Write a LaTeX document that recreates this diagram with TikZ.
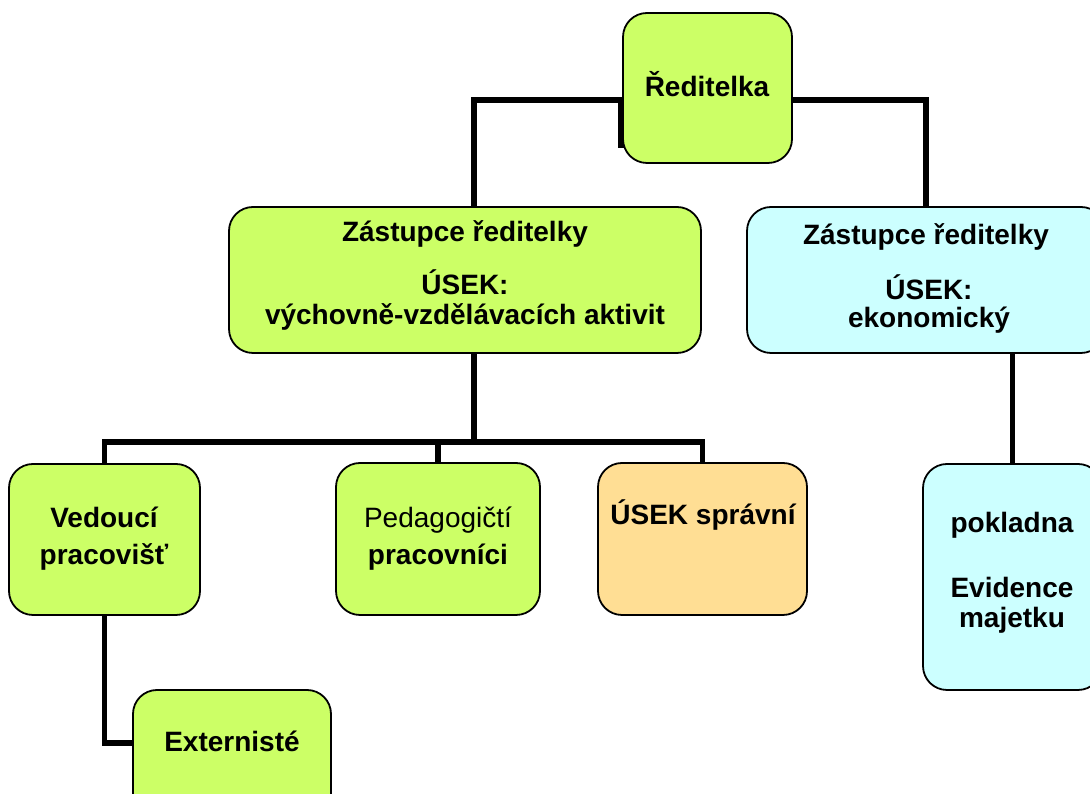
\documentclass[tikz,border=0pt]{standalone}
\usepackage{fontspec}
\setmainfont{Liberation Sans}
\usetikzlibrary{backgrounds}
\definecolor{boxgreen}{RGB}{204,255,102}
\definecolor{boxcyan}{RGB}{204,255,255}
\definecolor{boxorange}{RGB}{255,222,148}
\tikzset{
  orgbox/.style={draw=black, line width=1.8pt, rounded corners=24pt, rectangle, inner sep=0pt},
  conn/.style={draw=black, line width=5.5pt},
  lbl/.style={anchor=base, inner sep=0pt, font=\fontsize{28}{32}\selectfont\bfseries},
  lblreg/.style={anchor=base, inner sep=0pt, font=\fontsize{28}{32}\selectfont},
}
\begin{document}
\begin{tikzpicture}[x=1pt,y=1pt]
\useasboundingbox (0,0) rectangle (1090,794);
\clip (0,0) rectangle (1090,794);

% boxes
\node[orgbox, fill=boxgreen, minimum width=169pt, minimum height=150pt] (rt) at (707.5,706) {};
\node[orgbox, fill=boxgreen, minimum width=472pt, minimum height=146pt] (zl) at (465,514) {};
\node[orgbox, fill=boxcyan, minimum width=358pt, minimum height=146pt] (zr) at (926,514) {};
\node[orgbox, fill=boxgreen, minimum width=191pt, minimum height=151pt] (ve) at (104.5,254.5) {};
\node[orgbox, fill=boxgreen, minimum width=204pt, minimum height=152pt] (pe) at (438,255) {};
\node[orgbox, fill=boxorange, minimum width=209pt, minimum height=152pt] (us) at (702.5,255) {};
\node[orgbox, fill=boxcyan, minimum width=179pt, minimum height=226pt] (po) at (1012.5,217) {};
\node[orgbox, fill=boxgreen, minimum width=198pt, minimum height=150pt] (ex) at (232,29) {};

% texts
\node[lbl] (rt-t) at (707,697) {Ředitelka};
\node[lbl] (zl-t1) at (465,552) {Zástupce ředitelky};
\node[lbl] (zl-t2) at (465,499) {ÚSEK:};
\node[lbl] (zl-t3) at (465,469) {výchovně-vzdělávacích aktivit};
\node[lbl] (zr-t1) at (926,549) {Zástupce ředitelky};
\node[lbl] (zr-t2) at (929,494) {ÚSEK:};
\node[lbl] (zr-t3) at (929,466) {ekonomický};
\node[lbl] (ve-t1) at (104,266) {Vedoucí};
\node[lbl] (ve-t2) at (104,229) {pracovišť};
\node[lblreg] (pe-t1) at (438,266) {Pedagogičtí};
\node[lbl] (pe-t2) at (438,229) {pracovníci};
\node[lbl] (us-t) at (703,269) {ÚSEK správní};
\node[lbl] (po-t1) at (1012,261) {pokladna};
\node[lbl] (po-t2) at (1012,196) {Evidence};
\node[lbl] (po-t3) at (1012,166) {majetku};
\node[lbl] (ex-t) at (232,42) {Externisté};

\coordinate (bus) at (474,352);

% connectors
\begin{scope}[on background layer]
\fill[white] (0,0) rectangle (1090,794);
\draw[conn] ([xshift=9pt]zl.north) |- ([xshift=-1pt,yshift=-12pt]rt.west) -- ([xshift=-1pt,yshift=-60pt]rt.west);
\draw[conn] ([yshift=-12pt]rt.east) -| (zr.north);
\draw[conn] ([xshift=9pt]zl.south) -- (bus);
\draw[conn] (ve.north) |- (bus);
\draw[conn] (us.north) |- (bus);
\draw[conn] (pe.north) -- (pe.north |- bus);
\draw[conn] (po.north |- zr.south) -- (po.north);
\draw[conn] (ve.south) |- ([yshift=22pt]ex.west);
\end{scope}
\end{tikzpicture}
\end{document}
